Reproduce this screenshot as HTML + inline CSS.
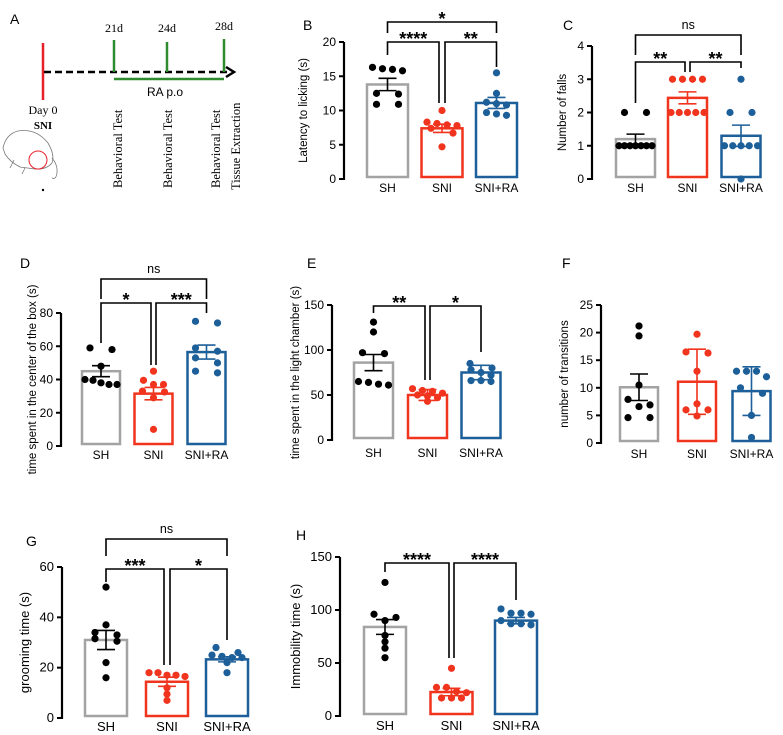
<!DOCTYPE html>
<html><head><meta charset="utf-8"><style>
html,body{margin:0;padding:0;background:#fff}
svg{display:block;font-family:"Liberation Sans",Arial,sans-serif}
.serif{font-family:"Liberation Serif",serif}
</style></head><body>
<svg id="fig" width="783" height="735" viewBox="0 0 783 735" xmlns="http://www.w3.org/2000/svg">
<g>
<text x="10" y="24" font-size="14">A</text>
<line x1="43" y1="43" x2="43" y2="100" stroke="#e8202a" stroke-width="2.5"/>
<line x1="44" y1="72" x2="230" y2="72" stroke="#000" stroke-width="2.5" stroke-dasharray="7,4"/>
<polyline points="226,67 234,72 226,77" fill="none" stroke="#000" stroke-width="2.5"/>
<line x1="114" y1="40" x2="114" y2="72" stroke="#2e8b2e" stroke-width="2.5"/>
<line x1="167" y1="42" x2="167" y2="72" stroke="#2e8b2e" stroke-width="2.5"/>
<line x1="224" y1="39" x2="224" y2="72" stroke="#2e8b2e" stroke-width="2.5"/>
<line x1="114" y1="79" x2="224" y2="79" stroke="#2e8b2e" stroke-width="2.5"/>
<text x="165" y="96" font-size="12" text-anchor="middle">RA p.o</text>
<text class="serif" x="114" y="32" font-size="12" text-anchor="middle">21d</text>
<text class="serif" x="167" y="32" font-size="12" text-anchor="middle">24d</text>
<text class="serif" x="224" y="30" font-size="12" text-anchor="middle">28d</text>
<text class="serif" x="43" y="114" font-size="12" text-anchor="middle">Day 0</text>
<text class="serif" x="43" y="129" font-size="11" font-weight="bold" text-anchor="middle">SNI</text>
<text class="serif" font-size="12.5" transform="translate(122,188) rotate(-90)">Behavioral Test</text>
<text class="serif" font-size="12.5" transform="translate(172,188) rotate(-90)">Behavioral Test</text>
<text class="serif" font-size="12.5" transform="translate(220,188) rotate(-90)">Behavioral Test</text>
<text class="serif" font-size="12.5" transform="translate(240,190) rotate(-90)">Tissue Extraction</text>
<g fill="none" stroke="#777" stroke-width="0.8">
<path d="M3,148 Q6,134 18,131 Q36,128 48,143 Q55,155 52,163 Q46,170 35,169 L20,167 Q10,162 5,154 Z"/>
<path d="M52,158 Q58,165 57,173 Q56,180 52,178"/>
<path d="M14,160 L10,168 M25,168 L22,174"/>
<circle cx="38" cy="160" r="9" stroke="#e8202a" stroke-width="1"/>
<circle cx="43" cy="190" r="0.8" fill="#000" stroke="#000"/>
</g>
</g>
</svg>
<script>
// ---- data ----
const categories = ["SH","SNI","SNI+RA"];
const bVals = [[16,16.3,15.8,16.1,12.5,12.4,10.9,10.9],[10,8.3,8.1,7.8,7.9,7.4,6.7,4.7],[15.5,12.5,11.2,11,10.8,9.5,9.7,9.3]];
const bMeans = [13.8,7.4,11.1];
const bErr = [0.9,0.6,0.8];
const bTicks = [0,5,10,15,20];
const cVals = [[2,2,1,1,1,1,1,1,1],[3,3,3,3,2,2,2,2,2],[3,2,2,1,1,1,1,1,0]];
const cMeans = [1.2,2.44,1.3];
const cErr = [0.15,0.18,0.32];
const cTicks = [0,1,2,3,4];
const dVals = [[58,59,48,40,37,39.5,37,38],[45,39.5,37,37,32.5,33,29,10],[74,75,59,57,50,53,44,45]];
const dMeans = [45,31.5,56.5];
const dErr = [3.3,3.7,4.2];
const dTicks = [0,20,40,60,80];
const eVals = [[131,120,96,97,61,65,62,64],[55,57,52,50,49,43,47,54],[80,85,78,75,72,66,65,66]];
const eMeans = [86,50,75];
const eErr = [9,6,8];
const eTicks = [0,50,100,150];
const fVals = [[21.2,19.4,10.5,7.9,6.6,6.9,4.6,4.6],[19.7,16.5,16.3,13,7.1,6,6,4.9],[13,13,13,12,10,9,5,1]];
const fMeans = [10.1,11.1,9.4];
const fErr = [2.4,5.9,4.4];
const fTicks = [0,5,10,15,20,25];
const gVals = [[52,37,34,33,31.5,30.5,22,16],[18,16.5,17,17,18,9.5,7,12],[28,26,25,24,24,24.5,22,18]];
const gMeans = [31,14.4,23.3];
const gErr = [3.8,1.8,1];
const gTicks = [0,20,40,60];
const hVals = [[126,96,93,90,76,70,64,55],[45,27,27,22,23,17,17,17],[101,97,97,87,87,90,86,96]];
const hMeans = [84,22.6,90];
const hErr = [7,3.5,3];
const hTicks = [0,50,100,150];

const NS="http://www.w3.org/2000/svg";
const svg=document.getElementById('fig');
const barCol=["#a3a3a3","#f0341e","#1d5f99"];
const dotCol=["#000","#f0341e","#1d5f99"];
function el(tag,attrs,parent){const e=document.createElementNS(NS,tag);for(const k in attrs)e.setAttribute(k,attrs[k]);(parent||svg).appendChild(e);return e;}
function txt(s,attrs,parent){const t=el('text',attrs,parent);t.textContent=s;return t;}

function panel(p){
  const g=el('g',{});
  
  
  const yMax=p.ticks[p.ticks.length-1];
  const y=v=>p.y0-(v/yMax)*(p.y0-p.yTop);
  const lab=txt(p.id.toUpperCase(),{x:p.lx,y:p.ly,'font-size':14},g);
  
  
  const ax=el('line',{x1:p.ax,y1:y(yMax),x2:p.ax,y2:p.y0+1,stroke:'#000','stroke-width':2.2},g);
  
  
  p.ticks.forEach(t=>{
    el('line',{x1:p.ax-5,y1:y(t),x2:p.ax,y2:y(t),stroke:'#000','stroke-width':2},g);
    const tl=txt(String(t),{x:p.ax-8,y:y(t)+4,'font-size':p.fs||12,'text-anchor':'end'},g);
    
    
  });
  const yt=txt(p.title,{'font-size':p.tfs||11.5,'text-anchor':'middle',transform:`translate(${p.tx},${(y(yMax)+p.y0)/2}) rotate(-90)`},g);
  
  
  p.cx.forEach((cx,i)=>{
    const top=y(p.means[i]);
    const b=el('rect',{x:cx-p.w/2,y:top,width:p.w,height:p.y0-2-top,fill:'none',stroke:barCol[i],'stroke-width':2.5},g);
    
    
    const c=i==0?'#000':dotCol[i];
    const e1=y(p.means[i]+p.err[i]), e2=y(p.means[i]-p.err[i]);
    const eb=el('path',{d:`M${cx},${e1}V${e2}M${cx-9},${e1}H${cx+9}M${cx-9},${e2}H${cx+9}`,stroke:c,'stroke-width':1.6,fill:'none'},g);
    
    
    const vals=p.vals[i].slice().sort((a,b)=>b-a);
    const rows=[];
    vals.forEach(v=>{const py=y(v);const r=rows.find(r=>Math.abs(r.y-py)<6);if(r)r.v.push(py);else rows.push({y:py,v:[py]});});
    rows.forEach(r=>{
      const n=r.v.length, sp=n>2?Math.min(10,(p.w-6)/(n-1)):(n==2?(p.sp2||22):0);
      r.v.forEach((py,k)=>{
        const d=el('circle',{cx:cx+(k-(n-1)/2)*sp,cy:py,r:3.6,fill:dotCol[i]},g);
        
        
      });
    });
    const cl=txt(categories[i],{x:cx,y:p.catY,'font-size':p.fs||12,'text-anchor':'middle'},g);
    
    
  });
  (p.br||[]).forEach(bk=>{
    const [xa,xb,yy,da,db,label]=bk;
    const pb=el('path',{d:`M${xa},${da}V${yy}H${xb}V${db}`,fill:'none',stroke:'#000','stroke-width':1.6},g);
    
    
    const isNs=label=='ns';
    const st=txt(label,{x:(xa+xb)/2,y:isNs?yy-6:yy+3,'font-size':isNs?12.5:18,'font-weight':isNs?'normal':'bold','text-anchor':'middle'},g);
    
    
  });
}

panel({id:'b',lx:303,ly:30,ax:344,y0:179,yTop:42,ticks:bTicks,vals:bVals,means:bMeans,err:bErr,cx:[387.5,442,496.5],w:41,catY:192,title:'Latency to licking (s)',tx:307,
 br:[[387.5,496.5,22,33,33,'*'],[387.5,439,42,55,103,'****'],[445,496.5,42,103,67,'**']]});
panel({id:'c',lx:563,ly:30,ax:592,y0:179,yTop:46,ticks:cTicks,vals:cVals,means:cMeans,err:cErr,cx:[635.5,687.5,741],w:39,catY:192,title:'Number of falls',tx:566,
 br:[[635.5,741,35,55,55,'ns'],[635.5,685,62,103,72,'**'],[690,741,62,72,68,'**']]});
panel({id:'d',lx:20,ly:268,ax:61,y0:446,yTop:313,ticks:dTicks,vals:dVals,means:dMeans,err:dErr,cx:[101,153.5,206.5],w:38,catY:459,title:'time spent in the center of the box (s)',tx:36,
 br:[[101,206.5,279,299,299,'ns'],[101,151,303,343,365,'*'],[156,206.5,303,365,313,'***']]});
panel({id:'e',lx:307,ly:268,ax:332,y0:440,yTop:305,ticks:eTicks,vals:eVals,means:eMeans,err:eErr,cx:[373.5,427.5,481],w:39,catY:457,title:'time spent in the light chamber (s)',tx:299,
 br:[[373.5,425,306,313,380,'**'],[430,481,306,380,352,'*']]});
panel({id:'f',lx:562,ly:268,ax:601,y0:443,yTop:305,ticks:fTicks,vals:fVals,means:fMeans,err:fErr,cx:[639,697,751.5],w:38,catY:458,title:'number of transitions',tx:568});
panel({id:'g',lx:26,ly:546,ax:62,y0:718,yTop:567,ticks:gTicks,vals:gVals,means:gMeans,err:gErr,cx:[106,167,227],w:42,catY:731,title:'grooming time (s)',tx:29,fs:13,tfs:13,
 br:[[106,227,539,556,556,'ns'],[106,164,569,582,665,'***'],[170,227,569,665,640,'*']]});
panel({id:'h',lx:296,ly:540,ax:340,y0:716,yTop:557,ticks:hTicks,vals:hVals,means:hMeans,err:hErr,cx:[385,451.5,516],w:42,catY:730,title:'Immobility time (s)',tx:300,fs:13,tfs:13,
 br:[[385,449,563,572,658,'****'],[454,516,563,658,600,'****']]});
</script>
</body></html>
